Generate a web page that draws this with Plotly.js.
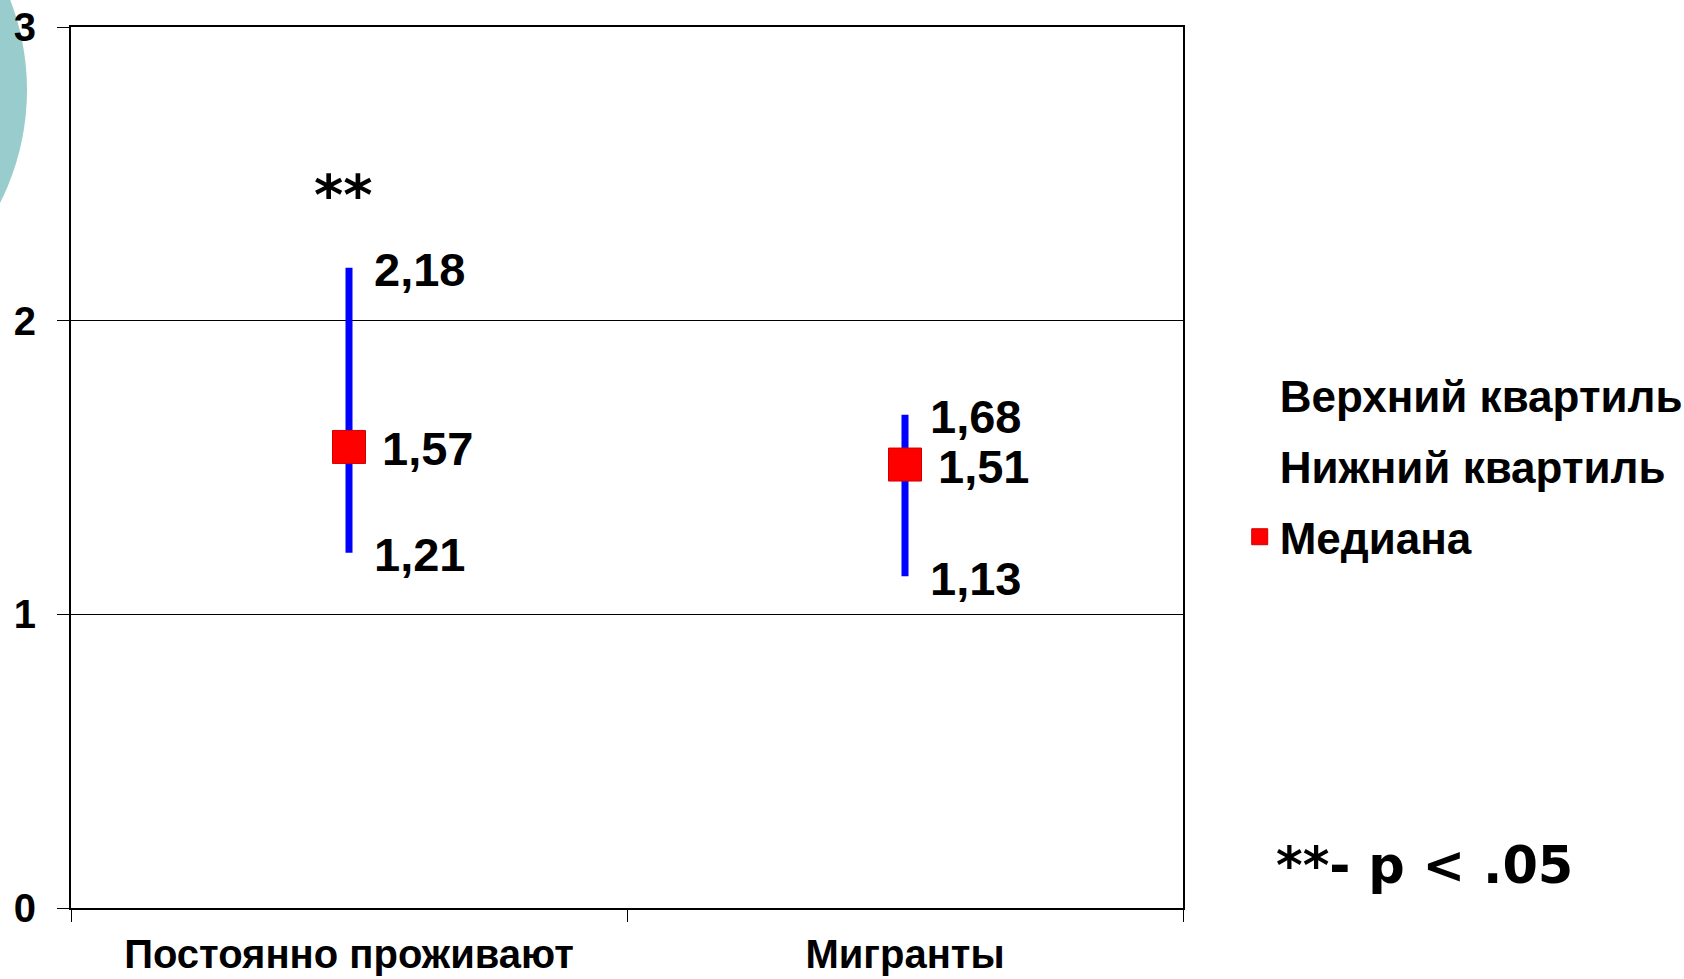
<!DOCTYPE html>
<html>
<head>
<meta charset="utf-8">
<script src="https://cdn.plot.ly/plotly-3.0.1.min.js"></script>
<style>html,body{margin:0;padding:0;background:#fff;}#chart{width:1684px;height:979px;}</style>
</head>
<body>
<div id="chart"></div>
<script>
// ---- data ----
var categories = ['Постоянно проживают', 'Мигранты'];
var upperQuartile = [2.18, 1.68];
var lowerQuartile = [1.21, 1.13];
var medianValues = [1.57, 1.51];
var seriesNames = ['Верхний квартиль', 'Нижний квартиль', 'Медиана'];
var yTickValues = [0, 1, 2, 3];
var significance = ['**', ''];
var noteText = '**- p < .05';

var fmt = function (v) { return v.toFixed(2).replace('.', ','); };
var boldArial = {family: 'Liberation Sans, Arial, sans-serif', weight: 'bold', color: '#000'};
var boldVerdana = {family: 'DejaVu Sans, Verdana, sans-serif', weight: 'bold', color: '#000'};

var traces = [
  {type: 'scatter', mode: 'markers', name: seriesNames[0], legendgroup: 'g1',
   x: categories, y: upperQuartile, marker: {opacity: 0, size: 10, color: 'rgba(0,0,0,0)'}, hoverinfo: 'y'},
  {type: 'scatter', mode: 'markers', name: seriesNames[1], legendgroup: 'g2',
   x: categories, y: lowerQuartile, marker: {opacity: 0, size: 10, color: 'rgba(0,0,0,0)'}, hoverinfo: 'y'},
  {type: 'scatter', mode: 'markers', name: seriesNames[2], legendgroup: 'g3',
   x: categories, y: medianValues,
   marker: {symbol: 'square', size: 33, color: '#ff0000', line: {color: '#d00000', width: 1}},
   error_y: {type: 'data', symmetric: false,
     array: medianValues.map(function (m, i) { return upperQuartile[i] - m; }),
     arrayminus: medianValues.map(function (m, i) { return m - lowerQuartile[i]; }),
     color: '#0000ff', thickness: 7, width: 0}}
];

var annotations = [];
categories.forEach(function (c, i) {
  annotations.push({x: c, y: upperQuartile[i], xref: 'x', yref: 'y', text: fmt(upperQuartile[i]),
    showarrow: false, xanchor: 'left', yanchor: 'middle', xshift: 23, yshift: -2, font: Object.assign({size: 47}, boldArial)});
  annotations.push({x: c, y: lowerQuartile[i], xref: 'x', yref: 'y', text: fmt(lowerQuartile[i]),
    showarrow: false, xanchor: 'left', yanchor: 'middle', xshift: 23, yshift: -2, font: Object.assign({size: 47}, boldArial)});
  annotations.push({x: c, y: medianValues[i], xref: 'x', yref: 'y', text: fmt(medianValues[i]),
    showarrow: false, xanchor: 'left', yanchor: 'middle', xshift: 31, yshift: -2, font: Object.assign({size: 47}, boldArial)});
  if (significance[i]) {
    annotations.push({x: c, y: 2.43, xref: 'x', yref: 'y', text: significance[i],
      showarrow: false, xanchor: 'center', yanchor: 'middle', xshift: -6, font: Object.assign({size: 56}, boldVerdana)});
  }
});
annotations.push({x: 1.082, y: 0.048, xref: 'paper', yref: 'paper', text: noteText, showarrow: false,
  xanchor: 'left', yanchor: 'middle', font: Object.assign({size: 51}, boldVerdana)});

var layout = {
  width: 1684, height: 979,
  margin: {l: 71, r: 501, t: 27, b: 71, pad: 0, autoexpand: false},
  paper_bgcolor: '#ffffff', plot_bgcolor: '#ffffff',
  showlegend: true,
  xaxis: {type: 'category', range: [-0.5, 1.5], tickson: 'boundaries', ticks: 'outside', ticklen: 12,
    tickwidth: 1, tickcolor: '#000', showgrid: false, showline: true, linecolor: '#000', linewidth: 2,
    mirror: true, zeroline: false, ticklabelstandoff: 10, tickfont: Object.assign({size: 40}, boldArial)},
  yaxis: {range: [0, 3], tickvals: yTickValues, ticktext: yTickValues.map(String), ticks: 'outside', ticklen: 12,
    tickwidth: 1, tickcolor: '#000', showgrid: true, gridcolor: '#000', gridwidth: 1,
    showline: true, linecolor: '#000', linewidth: 2, mirror: true, zeroline: false,
    ticklabelstandoff: 13, tickfont: Object.assign({size: 40}, boldArial)},
  legend: {x: 1.051, xanchor: 'left', y: 0.502, yanchor: 'middle', traceorder: 'grouped', tracegroupgap: 11,
    bgcolor: 'rgba(0,0,0,0)', borderwidth: 0, font: Object.assign({size: 44}, boldArial), itemsizing: 'trace'},
  shapes: [{type: 'circle', xref: 'paper', yref: 'paper', xsizemode: 'pixel', ysizemode: 'pixel',
    xanchor: 0, yanchor: 1, x0: -544, x1: -44, y0: -313, y1: 187,
    fillcolor: 'rgb(153,204,204)', line: {width: 0}, layer: 'below'}],
  annotations: annotations
};

Plotly.newPlot('chart', traces, layout, {displayModeBar: false, staticPlot: true});
</script>
</body>
</html>
